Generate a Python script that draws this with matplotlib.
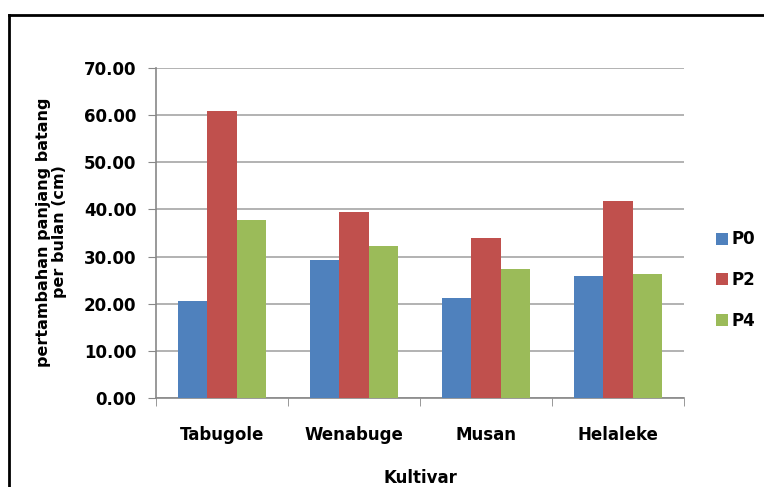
import matplotlib
matplotlib.use("Agg")
import matplotlib.pyplot as plt
from matplotlib.lines import Line2D
import numpy as np

plt.rcParams['font.family'] = ['DejaVu Sans']

categories = ["Tabugole", "Wenabuge", "Musan", "Helaleke"]
series_names = ["P0", "P2", "P4"]
p0 = [20.6, 29.3, 21.3, 25.9]
p2 = [60.8, 39.5, 34.0, 41.7]
p4 = [37.8, 32.3, 27.3, 26.4]
yticks = [0, 10, 20, 30, 40, 50, 60, 70]
colors = ["#4F81BD", "#C0504D", "#9BBB59"]

W, H = 764, 487
fig = plt.figure(figsize=(W / 100, H / 100), dpi=100)
ax = fig.add_axes([156 / W, 1 - 398.3 / H, (684 - 156) / W, (398.3 - 67.6) / H])

x = np.arange(len(categories))
bw = 0.22
for i, (vals, name, c) in enumerate(zip([p0, p2, p4], series_names, colors)):
    ax.bar(x + (i - 1) * bw, vals, width=bw, color=c, label=name, zorder=3)

ax.set_xlim(-0.5, len(categories) - 0.5)
ax.set_ylim(0, 70)
ax.set_yticks(yticks)
ax.set_yticklabels([f"{v:.2f}" for v in yticks], fontsize=12, fontweight='bold')
ax.set_xticks(x)
ax.set_xticklabels(categories, fontsize=12, fontweight='bold')
ax.tick_params(axis='x', length=0, pad=20)
ax.tick_params(axis='y', length=6, color='#888888', direction='out', pad=8)
ax.set_xticks(np.arange(-0.5, len(categories)), minor=True)
ax.tick_params(axis='x', which='minor', length=6, color='#888888', direction='out')

ax.grid(axis='y', color='#a6a6a6', linewidth=1.2, zorder=0)
for s in ['top', 'right']:
    ax.spines[s].set_visible(False)
for s in ['left', 'bottom']:
    ax.spines[s].set_color('#888888')
    ax.spines[s].set_linewidth(1.2)

ax.set_xlabel("Kultivar", fontsize=12, fontweight='bold')
ax.xaxis.set_label_coords(0.5, (398.3 - 469) / 330.7)
ax.set_ylabel("pertambahan panjang batang\nper bulan (cm)", fontsize=11.5,
              fontweight='bold', linespacing=1.05)
ax.yaxis.set_label_coords((67 - 156) / 528, 0.503)

ax.legend(loc='center left', bbox_to_anchor=(716 / W, 1 - 280 / H),
          bbox_transform=fig.transFigure, frameon=False, borderpad=0,
          borderaxespad=0, prop={'size': 12, 'weight': 'bold'},
          handlelength=0.7, handleheight=0.7, labelspacing=1.35,
          handletextpad=0.25)

# outer chart frame
fig.add_artist(Line2D([9 / W, 9 / W], [0, 1 - 15 / H], transform=fig.transFigure,
                      color='black', linewidth=2))
fig.add_artist(Line2D([9 / W, 1], [1 - 15 / H, 1 - 15 / H], transform=fig.transFigure,
                      color='black', linewidth=2))

fig.savefig("out.png", dpi=100)
